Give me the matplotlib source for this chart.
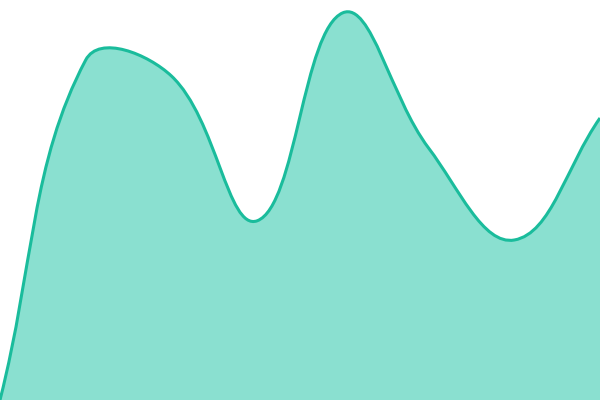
import numpy as np
import matplotlib
matplotlib.use("Agg")
import matplotlib.pyplot as plt
from matplotlib.path import Path
from matplotlib.patches import PathPatch

# values (hidden y axis, 0..100)
labels = ["A", "B", "C", "D", "E", "F", "G", "H"]
values = [0, 85.0, 81, 44.8, 96.8, 63, 40, 70.5]

line_color = "#1abc9c"
fill_color = "#8ae0d0"
tension = 0.4


def spline_controls(pts, t):
    """ chart.js style control points, computed in pixel space """
    n = len(pts)
    c_prev = np.zeros_like(pts)
    c_next = np.zeros_like(pts)
    for i in range(n):
        p0 = pts[max(i - 1, 0)]
        p1 = pts[i]
        p2 = pts[min(i + 1, n - 1)]
        d01 = np.hypot(*(p1 - p0))
        d12 = np.hypot(*(p2 - p1))
        tot = d01 + d12
        s01 = d01 / tot if tot else 0
        s12 = d12 / tot if tot else 0
        c_prev[i] = p1 - t * s01 * (p2 - p0)
        c_next[i] = p1 + t * s12 * (p2 - p0)
    return c_prev, c_next


fig = plt.figure(figsize=(6, 4), dpi=100)
ax = fig.add_axes([0, 0, 1, 1])
x = np.arange(len(values))
ax.set_xlim(0, len(values) - 1)
ax.set_ylim(0, 100)
ax.axis("off")

pix = ax.transData.transform(np.column_stack([x, values]))
c_prev, c_next = spline_controls(pix, tension)
# keep control points inside the chart area
bbox = ax.bbox
for c in (c_prev, c_next):
    c[:, 0] = np.clip(c[:, 0], bbox.x0, bbox.x1)
    c[:, 1] = np.clip(c[:, 1], bbox.y0, bbox.y1)

inv = ax.transData.inverted()
verts = [pix[0]]
codes = [Path.MOVETO]
for i in range(len(values) - 1):
    verts += [c_next[i], c_prev[i + 1], pix[i + 1]]
    codes += [Path.CURVE4] * 3
verts = inv.transform(np.array(verts))

line_path = Path(verts, codes)
fill_verts = np.vstack([verts, [[x[-1], 0], [x[0], 0], verts[0]]])
fill_codes = codes + [Path.LINETO, Path.LINETO, Path.CLOSEPOLY]
fill_path = Path(fill_verts, fill_codes)

ax.add_patch(PathPatch(fill_path, facecolor=fill_color, edgecolor="none"))
ax.add_patch(PathPatch(line_path, facecolor="none", edgecolor=line_color,
                       linewidth=2.2, capstyle="butt", joinstyle="round"))

fig.savefig("out.png", dpi=100)
